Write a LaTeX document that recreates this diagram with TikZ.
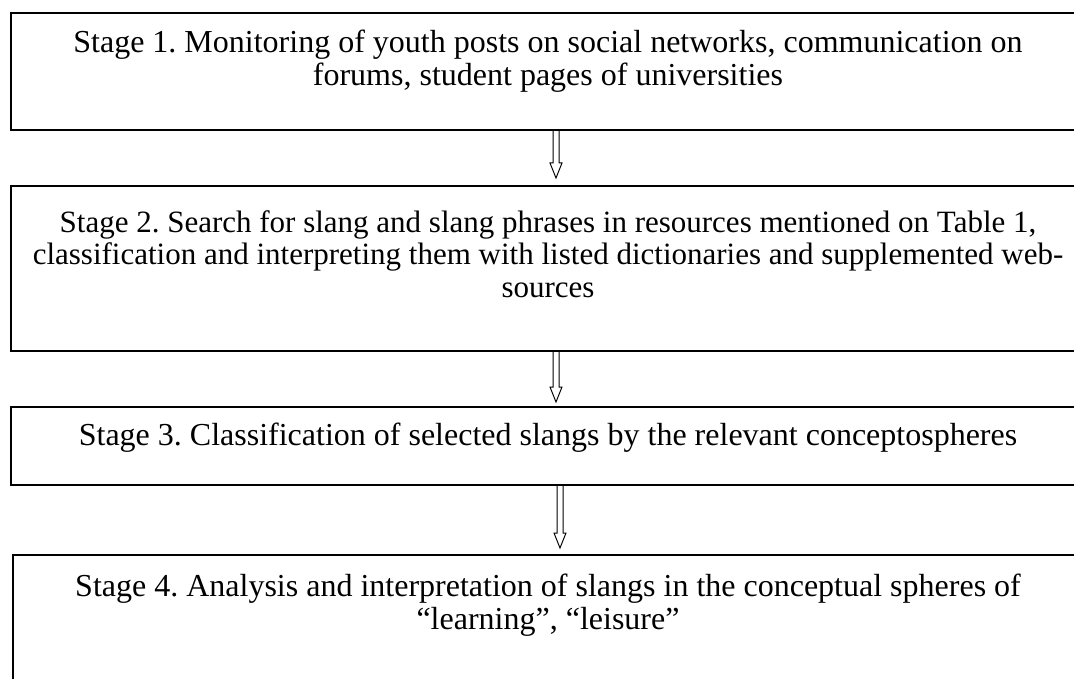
\documentclass[tikz,border=0pt]{standalone}
\usepackage{fontspec}
\setmainfont{Liberation Serif}
\usetikzlibrary{calc}

\tikzset{
  stagebox/.style={draw, line width=1.6pt, rectangle, anchor=north west,
    inner sep=0pt, minimum width=1076pt},
  stagetext/.style={font=\fontsize{32}{33}\selectfont\frenchspacing, align=center,
    inner sep=0pt, anchor=base},
  flow/.style={line width=1pt, line join=miter}
}

% hollow block arrow: shaft from #1 down to the tip #2
\newcommand\blockarrow[2]{%
  \draw[flow] ($(#1)+(-3pt,0)$) -- ($(#2)+(-3pt,15pt)$) -- ($(#2)+(-6pt,15pt)$)
    -- (#2) -- ($(#2)+(6pt,15pt)$) -- ($(#2)+(3pt,15pt)$) -- ($(#1)+(3pt,0)$);}

\begin{document}
\begin{tikzpicture}[x=1pt,y=1pt]
\clip (0,0) rectangle (1074,-679);
\fill[white] (0,0) rectangle (1074,-679);

% stage boxes
\node[stagebox, minimum height=117pt] (b1) at (10,-12) {};
\node[stagebox, minimum height=165pt] (b2) at (10,-185) {};
\node[stagebox, minimum height=78pt]  (b3) at (10,-406) {};
\node[stagebox, minimum height=200pt] (b4) at (12,-554) {};

% stage texts (anchored on the baseline of the last line)
\node[stagetext] (t1) at (548,-86) {Stage 1. Monitoring of youth posts on social networks, communication on\\forums, student pages of universities};
\node[stagetext, font=\fontsize{31}{33}\selectfont\frenchspacing] (t2) at (548,-298) {Stage 2. Search for slang and slang phrases in resources mentioned on Table 1,\\classification and interpreting them with listed dictionaries and supplemented web-\\sources};
\node[stagetext] (t3) at (548,-445) {Stage 3. Classification of selected slangs by the relevant conceptospheres};
\node[stagetext] (t4) at (548,-629) {Stage 4. Analysis and interpretation of slangs in the conceptual spheres of\\``learning'', ``leisure''};

% arrow columns
\coordinate (ax) at (556,0);
\coordinate (bx) at (560,0);
\coordinate (s1) at (ax |- b1.south);
\coordinate (e1) at ($(ax |- b2.north)+(0,7)$);
\coordinate (s2) at (ax |- b2.south);
\coordinate (e2) at ($(ax |- b3.north)+(0,4)$);
\coordinate (s3) at (bx |- b3.south);
\coordinate (e3) at ($(bx |- b4.north)+(0,6)$);

\blockarrow{s1}{e1}
\blockarrow{s2}{e2}
\blockarrow{s3}{e3}
\end{tikzpicture}
\end{document}
